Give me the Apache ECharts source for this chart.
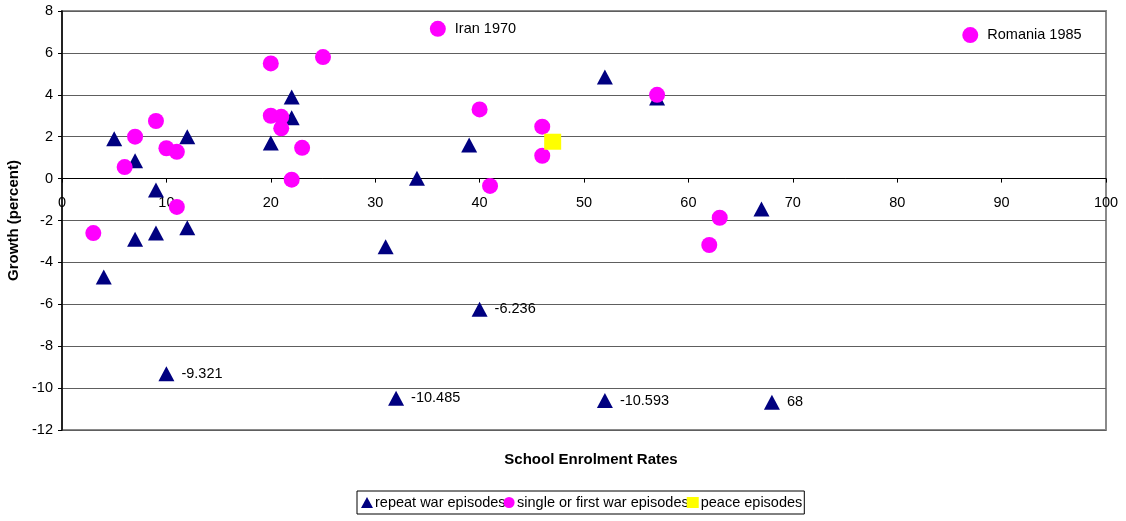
<!DOCTYPE html>
<html>
<head>
<meta charset="utf-8">
<script src="https://cdn.jsdelivr.net/npm/echarts@6/dist/echarts.min.js"></script>
<style>
  html, body { margin: 0; padding: 0; background: #fff; }
  #chart { width: 1126px; height: 521px; }
</style>
</head>
<body>
<div id="chart"></div>
<script>
// Repeat war episodes: enrolment rate, growth, optional point label
const repeatX = [5, 7, 9, 12, 7, 9, 12, 4, 10, 20, 22, 22, 31, 34, 39, 40, 32, 52, 57, 52, 67, 68];
const repeatY = [1.9, 0.85, -0.55, 2.0, -2.9, -2.6, -2.35, -4.7, -9.321, 1.7, 3.9, 2.9, -3.25, 0.02, 1.6, -6.236, -10.485, 4.85, 3.85, -10.593, -1.45, -10.67];
const repeatLabels = ['', '', '', '', '', '', '', '', '-9.321', '', '', '', '', '', '', '-6.236', '-10.485', '', '', '-10.593', '', '68'];

// Single or first war episodes
const singleX = [3, 6, 7, 9, 10, 11, 11, 20, 20, 21, 21, 23, 22, 25, 36, 40, 41, 46, 46, 57, 62, 63, 87];
const singleY = [-2.6, 0.55, 2.0, 2.75, 1.45, 1.28, -1.35, 5.5, 3.0, 2.95, 2.4, 1.47, -0.05, 5.8, 7.15, 3.3, -0.35, 2.48, 1.09, 4.0, -3.17, -1.87, 6.85];
const singleLabels = ['', '', '', '', '', '', '', '', '', '', '', '', '', '', 'Iran 1970', '', '', '', '', '', '', '', 'Romania 1985'];

// Peace episodes
const peaceX = [47];
const peaceY = [1.76];

const seriesNames = ['repeat war episodes', 'single or first war episodes', 'peace episodes'];

// Growth axis range
const yMin = -12, yMax = 8;

const FONT = 'Liberation Sans, Arial, sans-serif';
const GRID = { left: 62, right: 20, top: 11, bottom: 91 };
const plotHeight = 521 - GRID.top - GRID.bottom;
// lift the enrolment axis from the plot floor up to the zero-growth line
const zeroLift = plotHeight * (0 - yMin) / (yMax - yMin);

function points(xs, ys, labels) {
  return xs.map((x, i) => {
    const p = { value: [x, ys[i]] };
    if (labels && labels[i]) {
      p.label = { show: true, formatter: labels[i] };
    }
    return p;
  });
}

const labelStyle = {
  show: false,
  position: 'right',
  color: '#000',
  fontFamily: FONT,
  fontSize: 14.5
};

const chart = echarts.init(document.getElementById('chart'), null, { renderer: 'canvas' });

chart.setOption({
  animation: false,
  backgroundColor: '#fff',
  textStyle: { fontFamily: FONT },
  grid: Object.assign({}, GRID, {
    outerBoundsMode: 'none',
    containLabel: false,
    show: true,
    borderColor: '#8a8a8a',
    borderWidth: 2,
    backgroundColor: 'transparent'
  }),
  xAxis: {
    type: 'value',
    min: 0, max: 100, interval: 10,
    position: 'bottom',
    offset: -zeroLift,
    z: 1,
    name: 'School Enrolment Rates',
    nameLocation: 'middle',
    nameGap: 274,
    nameTextStyle: { fontFamily: FONT, fontSize: 15, fontWeight: 'bold', color: '#000', padding: [0, 0, 0, 14] },
    axisLine: { onZero: false, lineStyle: { color: '#000', width: 1 } },
    axisTick: { show: true, length: 4, lineStyle: { color: '#000' } },
    axisLabel: { color: '#000', fontFamily: FONT, fontSize: 14.5, margin: 17 },
    splitLine: { show: false }
  },
  yAxis: {
    type: 'value',
    min: yMin, max: yMax, interval: 2,
    name: 'Growth (percent)',
    nameLocation: 'middle',
    nameGap: 34,
    nameRotate: 90,
    nameTextStyle: { fontFamily: FONT, fontSize: 15, fontWeight: 'bold', color: '#000' },
    axisLine: { show: true, onZero: false, lineStyle: { color: '#000', width: 1.5 } },
    axisTick: { show: true, length: 4, lineStyle: { color: '#000' } },
    axisLabel: { color: '#000', fontFamily: FONT, fontSize: 14.5, margin: 9 },
    splitLine: { show: true, lineStyle: { color: '#5e5e5e', width: 1 } }
  },
  legend: {
    left: 357,
    top: 491,
    orient: 'horizontal',
    itemWidth: 12,
    itemHeight: 11,
    itemGap: -2,
    padding: [4, 2, 4, 4],
    borderColor: '#000',
    borderWidth: 1,
    borderRadius: 0,
    textStyle: { color: '#000', fontFamily: FONT, fontSize: 14.5, padding: [0, 0, 0, -3] },
    data: seriesNames
  },
  series: [
    {
      name: seriesNames[0],
      type: 'scatter',
      symbol: 'triangle',
      symbolSize: [16, 15],
      itemStyle: { color: '#000080', opacity: 1 },
      label: Object.assign({}, labelStyle, { distance: 7 }),
      data: points(repeatX, repeatY, repeatLabels),
      z: 3
    },
    {
      name: seriesNames[1],
      type: 'scatter',
      symbol: 'circle',
      symbolSize: 16,
      itemStyle: { color: '#ff00ff', opacity: 1 },
      label: Object.assign({}, labelStyle, { distance: 9 }),
      data: points(singleX, singleY, singleLabels),
      z: 4
    },
    {
      name: seriesNames[2],
      type: 'scatter',
      symbol: 'rect',
      symbolSize: [17, 16],
      itemStyle: { color: '#ffff00', opacity: 1 },
      data: points(peaceX, peaceY),
      z: 5
    }
  ]
});
</script>
</body>
</html>
